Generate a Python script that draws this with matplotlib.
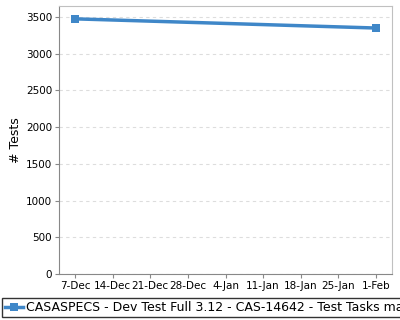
import datetime as dt
import matplotlib
matplotlib.use("Agg")
import matplotlib.pyplot as plt
import matplotlib.dates as mdates

dates = [dt.date(2015, 12, 7), dt.date(2016, 2, 1)]
tests = [3475, 3350]
series_name = "CASASPECS - Dev Test Full 3.12 - CAS-14642 - Test Tasks manual"
tick_dates = [dt.date(2015, 12, 7) + dt.timedelta(days=7 * i) for i in range(9)]

fig = plt.figure(figsize=(4, 3.2), dpi=100)
ax = fig.add_axes([59 / 400, 46 / 320, 333 / 400, 268 / 320])

ax.plot(dates, tests, color="#3f87c8", lw=2.5, marker="s", ms=5.5,
        markeredgewidth=0, label=series_name)

ax.set_xlim(dt.date(2015, 12, 4), dt.date(2016, 2, 4))
ax.set_ylim(0, 3650)
ax.set_yticks(range(0, 3501, 500))
ax.set_xticks(tick_dates)
ax.xaxis.set_major_formatter(mdates.DateFormatter("%-d-%b"))
ax.tick_params(labelsize=7.5, length=3, color="#888888", pad=2)
ax.set_ylabel("# Tests", fontsize=9)
ax.yaxis.set_label_coords(-0.11, 0.5)

ax.grid(axis="y", color="#dddddd", ls=(0, (3, 3)), lw=0.8)
ax.set_axisbelow(True)
for s in ["left", "bottom"]:
    ax.spines[s].set_color("#888888")
for s in ["top", "right"]:
    ax.spines[s].set_color("#c0c0c0")

leg = fig.legend(loc="lower left", bbox_to_anchor=(2 / 400, 3 / 320),
                 fontsize=9, frameon=True, fancybox=False, handlelength=1.4,
                 borderpad=0.25, handletextpad=0.25, borderaxespad=0)
leg.get_frame().set_edgecolor("black")
leg.get_frame().set_linewidth(1)

fig.savefig("out.png", dpi=100)
